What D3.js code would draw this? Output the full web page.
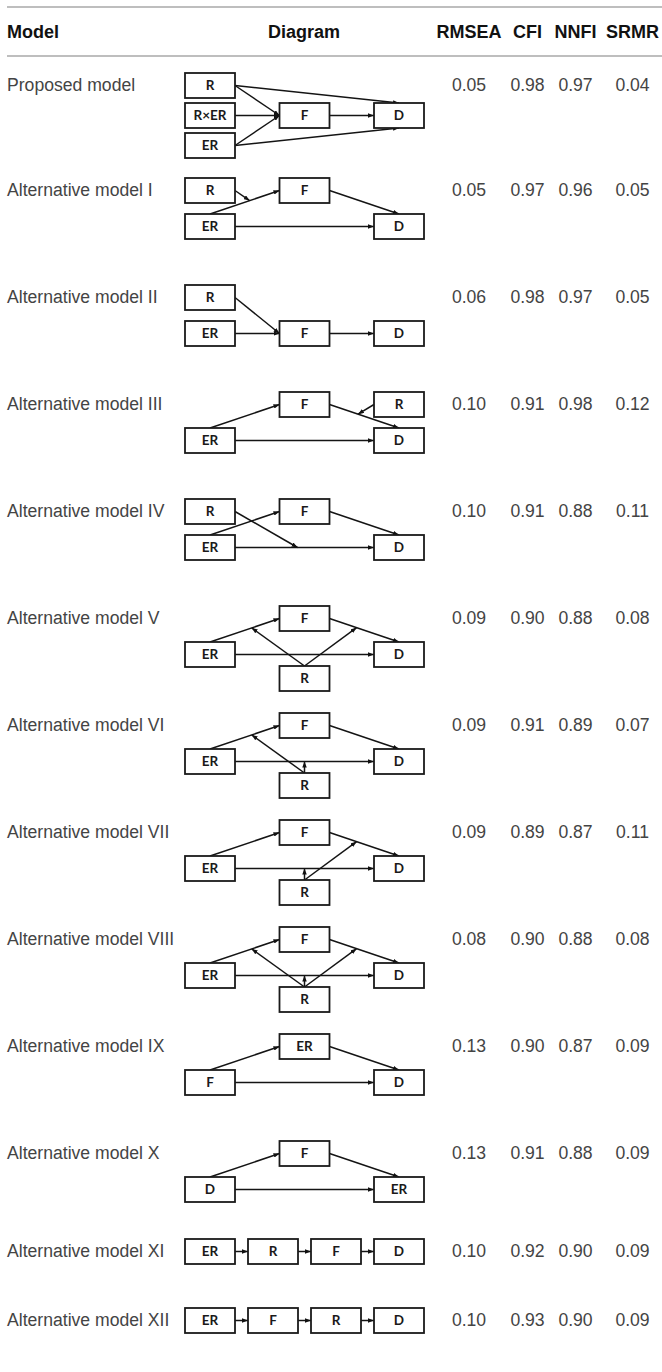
<!DOCTYPE html>
<html>
<head>
<meta charset="utf-8">
<script src="https://cdn.jsdelivr.net/npm/d3@7"></script>
<style>
  html, body { margin: 0; padding: 0; background: #fff; }
  svg { display: block; }
</style>
</head>
<body>
<div id="chart"></div>
<script>
// ---------------- DATA ----------------
const headers = ["Model", "Diagram", "RMSEA", "CFI", "NNFI", "SRMR"];
const models = [
  "Proposed model", "Alternative model I", "Alternative model II", "Alternative model III",
  "Alternative model IV", "Alternative model V", "Alternative model VI", "Alternative model VII",
  "Alternative model VIII", "Alternative model IX", "Alternative model X", "Alternative model XI",
  "Alternative model XII"
];
const rmsea = ["0.05","0.05","0.06","0.10","0.10","0.09","0.09","0.09","0.08","0.13","0.13","0.10","0.10"];
const cfi   = ["0.98","0.97","0.98","0.91","0.91","0.90","0.91","0.89","0.90","0.90","0.91","0.92","0.93"];
const nnfi  = ["0.97","0.96","0.97","0.98","0.88","0.88","0.89","0.87","0.88","0.87","0.88","0.90","0.90"];
const srmr  = ["0.04","0.05","0.05","0.12","0.11","0.08","0.07","0.11","0.08","0.09","0.09","0.09","0.09"];

// diagram nodes: [label, column index, row index]
const diagramNodes = [
  [["R",0,0],["R×ER",0,1],["ER",0,2],["F",1,1],["D",2,1]],
  [["R",0,0],["F",1,0],["ER",0,1],["D",2,1]],
  [["R",0,0],["ER",0,1],["F",1,1],["D",2,1]],
  [["F",1,0],["R",2,0],["ER",0,1],["D",2,1]],
  [["R",0,0],["F",1,0],["ER",0,1],["D",2,1]],
  [["F",1,0],["ER",0,1],["D",2,1],["R",1,2]],
  [["F",1,0],["ER",0,1],["D",2,1],["R",1,2]],
  [["F",1,0],["ER",0,1],["D",2,1],["R",1,2]],
  [["F",1,0],["ER",0,1],["D",2,1],["R",1,2]],
  [["ER",1,0],["F",0,1],["D",2,1]],
  [["F",1,0],["D",0,1],["ER",2,1]],
  [["ER",0,0],["R",1,0],["F",2,0],["D",3,0]],
  [["ER",0,0],["F",1,0],["R",2,0],["D",3,0]]
];
// diagram paths: [source, side, target, side]  or moderation: [source, side, pathIndex, fraction]
const diagramPaths = [
  [["R","r","D","t"],["R","r","F","l"],["R×ER","r","F","l"],["ER","r","F","l"],["F","r","D","l"],["ER","r","D","b"]],
  [["ER","t","F","l"],["F","r","D","t"],["ER","r","D","l"],["R","r",0,0.57]],
  [["R","r","F","l"],["ER","r","F","l"],["F","r","D","l"]],
  [["ER","t","F","l"],["F","r","D","t"],["ER","r","D","l"],["R","l",1,0.41]],
  [["ER","t","F","l"],["F","r","D","t"],["ER","r","D","l"],["R","r",2,0.45]],
  [["ER","t","F","l"],["F","r","D","t"],["ER","r","D","l"],["R","t",0,0.6],["R","t",1,0.39]],
  [["ER","t","F","l"],["F","r","D","t"],["ER","r","D","l"],["R","t",0,0.6],["R","t",2,0.5]],
  [["ER","t","F","l"],["F","r","D","t"],["ER","r","D","l"],["R","t",2,0.5],["R","t",1,0.39]],
  [["ER","t","F","l"],["F","r","D","t"],["ER","r","D","l"],["R","t",0,0.6],["R","t",1,0.39],["R","t",2,0.5]],
  [["F","t","ER","l"],["ER","r","D","t"],["F","r","D","l"]],
  [["D","t","F","l"],["F","r","ER","t"],["D","r","ER","l"]],
  [["ER","r","R","l"],["R","r","F","l"],["F","r","D","l"]],
  [["ER","r","F","l"],["F","r","R","l"],["R","r","D","l"]]
];

// ---------------- LAYOUT ----------------
const W = 662, H = 1372;
const boxW = 50, boxH = 25;
const svg = d3.select("#chart").append("svg").attr("width", W).attr("height", H)
  .style("background", "#fff");

svg.append("defs").append("marker")
  .attr("id", "arr").attr("viewBox", "0 0 8 6")
  .attr("refX", 8).attr("refY", 3)
  .attr("markerWidth", 6).attr("markerHeight", 4.5)
  .attr("markerUnits", "userSpaceOnUse").attr("orient", "auto")
  .append("path").attr("d", "M0,0L8,3L0,6Z").attr("fill", "#111");

// vertical position of each model (top of its first diagram row)
const modelY = d3.scaleLinear().domain([0, 1, 10, 11, 12]).range([73, 178, 1141, 1239, 1308]);
// numeric column centres
const statCols = d3.scaleOrdinal().domain(["RMSEA","CFI","NNFI","SRMR"]).range([469, 527.5, 575.5, 632.5]);

// rules
[7, 56].forEach(y => svg.append("line").attr("x1", 7).attr("x2", 662).attr("y1", y).attr("y2", y)
  .attr("stroke", "#a8a8a8").attr("stroke-width", 1.4));

// header
const headFont = "'Liberation Sans', Arial, Helvetica, sans-serif";
svg.append("text").attr("x", 7).attr("y", 38).text(headers[0])
  .attr("font-family", headFont).attr("font-weight", "bold").attr("font-size", 18).attr("fill", "#111");
svg.append("text").attr("x", 304).attr("y", 38).attr("text-anchor", "middle").text(headers[1])
  .attr("font-family", headFont).attr("font-weight", "bold").attr("font-size", 18).attr("fill", "#111");
headers.slice(2).forEach(h => svg.append("text").attr("x", statCols(h)).attr("y", 38)
  .attr("text-anchor", "middle").text(h)
  .attr("font-family", headFont).attr("font-weight", "bold").attr("font-size", 18).attr("fill", "#111"));

const stats = { RMSEA: rmsea, CFI: cfi, NNFI: nnfi, SRMR: srmr };

models.forEach((name, i) => {
  const top = modelY(i);
  const textY = top + boxH / 2 + 5;
  const g = svg.append("g");
  g.append("text").attr("x", 7).attr("y", textY).text(name)
    .attr("font-family", headFont).attr("font-size", 17.6).attr("fill", "#444");
  Object.keys(stats).forEach(k => g.append("text").attr("x", statCols(k)).attr("y", textY)
    .attr("text-anchor", "middle").text(stats[k][i])
    .attr("font-family", headFont).attr("font-size", 17.6).attr("fill", "#444"));

  // diagram
  const nodes = diagramNodes[i];
  const ncol = d3.max(nodes, d => d[1]) + 1;
  const x = d3.scaleLinear().domain([0, ncol - 1]).range([185, 374]);
  const y = d3.scaleOrdinal().domain([0, 1, 2]).range(i === 0 ? [0, 30, 60] : [0, 36, 60]);
  const pos = {};
  nodes.forEach(([lab, c, r]) => { pos[lab] = { x: x(c), y: top + y(r) }; });
  const anchor = (lab, side) => {
    const p = pos[lab];
    if (side === "r") return [p.x + boxW, p.y + boxH / 2];
    if (side === "l") return [p.x, p.y + boxH / 2];
    if (side === "t") return [p.x + boxW / 2, p.y];
    return [p.x + boxW / 2, p.y + boxH];
  };
  const ends = [];
  diagramPaths[i].forEach(pth => {
    const s = anchor(pth[0], pth[1]);
    let t;
    if (typeof pth[2] === "number") {
      const [a, b] = ends[pth[2]];
      t = [a[0] + (b[0] - a[0]) * pth[3], a[1] + (b[1] - a[1]) * pth[3]];
    } else {
      t = anchor(pth[2], pth[3]);
    }
    ends.push([s, t]);
  });
  g.selectAll("line.path").data(ends).enter().append("line")
    .attr("x1", d => d[0][0]).attr("y1", d => d[0][1])
    .attr("x2", d => d[1][0]).attr("y2", d => d[1][1])
    .attr("stroke", "#141414").attr("stroke-width", 1.5)
    .attr("marker-end", "url(#arr)");

  const nb = g.selectAll("g.node").data(nodes).enter().append("g");
  nb.append("rect").attr("x", d => pos[d[0]].x).attr("y", d => pos[d[0]].y)
    .attr("width", boxW).attr("height", boxH)
    .attr("fill", "#fff").attr("stroke", "#1a1a1a").attr("stroke-width", 1.8);
  nb.append("text").attr("x", d => pos[d[0]].x + boxW / 2).attr("y", d => pos[d[0]].y + boxH / 2 + 4.7)
    .attr("text-anchor", "middle").text(d => d[0])
    .attr("font-family", "Lato, 'Open Sans', sans-serif").attr("font-weight", "bold")
    .attr("font-size", 13.5).attr("fill", "#1a1a1a");
});
</script>
</body>
</html>
